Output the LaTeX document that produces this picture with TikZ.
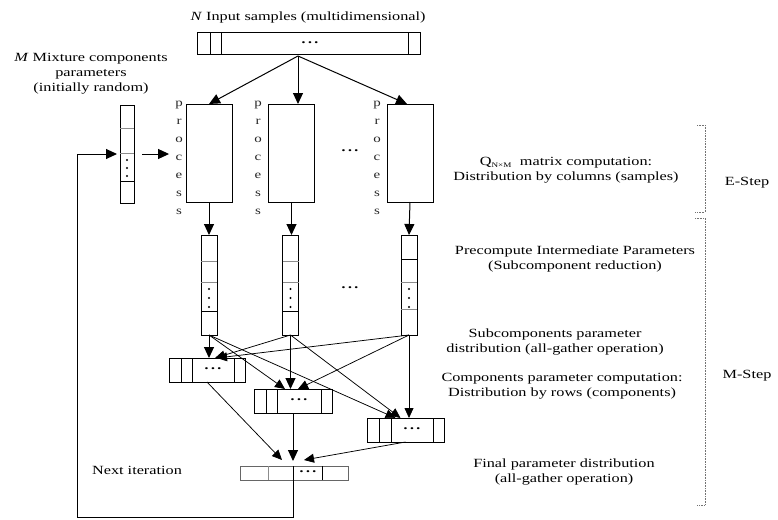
\documentclass[tikz,border=0pt]{standalone}
\usepackage{fontspec}
\setmainfont{Liberation Serif}[FakeStretch=1.3]
\usetikzlibrary{arrows.meta}

\tikzset{
  box/.style={draw, line width=1pt, inner sep=0pt, outer sep=0pt},
  arr/.style={-{Triangle[length=11pt,width=10pt]}, line width=1pt},
  fan/.style={-{Triangle[length=10pt,width=9pt]}, line width=0.75pt},
  lbl/.style={align=center, inner sep=0pt, font=\fontsize{12.5}{15}\selectfont},
  proclbl/.style={align=center, inner sep=0pt, text=black!85,
    font=\fontsize{11.5}{18}\selectfont},
  ell/.style={inner sep=0pt, font=\fontsize{8.5}{8.5}\selectfont},
  softsep/.style={draw=black!45, line width=0.9pt},
  hardsep/.style={draw=black, line width=0.9pt},
  brk/.style={draw=black!55, densely dotted, line width=0.6pt},
}

\newcommand{\ellip}{\textbullet\hspace{2.5pt}\textbullet\hspace{2.5pt}\textbullet}

\begin{document}
\begin{tikzpicture}[x=1pt,y=-1pt]
\useasboundingbox (0,0) rectangle (778,519);

% ---------- input samples ----------
\node[lbl] (intxt) at (308,17) {\textit{N} Input samples (multidimensional)};
\node[box, minimum width=223pt, minimum height=22pt] (in) at (308.5,44) {};
\draw[line width=0.9pt] (210,33) -- (210,55) (221,33) -- (221,55) (408,33) -- (408,55);
\node[ell] (indots) at (310,44) {\ellip};
\coordinate (split) at (298,56);

% ---------- mixture parameters ----------
\node[lbl] (mtxt) at (91,74) {\textit{M} Mixture components\\parameters\\(initially random)};
\node[box, minimum width=14pt, minimum height=98pt] (mc) at (127,154) {};
\draw[softsep] (120,128) -- (134,128) (120,153) -- (134,153);
\draw[hardsep] (120,181) -- (134,181);
\foreach \y in {160,168,176} \fill (127,\y) circle (1.2pt);

% ---------- E-step process boxes ----------
\node[box, minimum width=46pt, minimum height=98pt] (pA) at (209,153) {};
\node[box, minimum width=46pt, minimum height=98pt] (pB) at (291.5,153) {};
\node[box, minimum width=46pt, minimum height=98pt] (pC) at (410,153) {};
\node[proclbl] (lA) at (179,158) {p\\r\\o\\c\\e\\s\\s};
\node[proclbl] (lB) at (258,158) {p\\r\\o\\c\\e\\s\\s};
\node[proclbl] (lC) at (377,158) {p\\r\\o\\c\\e\\s\\s};
\node[ell] (pdots) at (350,152) {\ellip};

\draw[arr] (split) -- (pA.north);
\draw[arr] (split) -- (split |- pB.north);
\draw[arr] (split) -- ([xshift=-3pt]pC.north);

% ---------- intermediate parameter columns ----------
\node[box, minimum width=16pt, minimum height=100pt] (cA) at (209,285) {};
\node[box, minimum width=16pt, minimum height=100pt] (cB) at (290.5,285) {};
\node[box, minimum width=16pt, minimum height=100pt] (cC) at (409,285) {};
\draw[softsep] (201,261) -- (217,261) (201,282) -- (217,282);
\draw[hardsep] (201,311) -- (217,311);
\draw[softsep] (282.5,261) -- (298.5,261) (282.5,282) -- (298.5,282);
\draw[hardsep] (282.5,311) -- (298.5,311);
\draw[hardsep] (401,259) -- (417,259);
\draw[softsep] (401,282) -- (417,282) (401,309) -- (417,309);
\foreach \x in {209,290.5,409}
  \foreach \y in {289,298,307} \fill (\x,\y) circle (1.2pt);
\node[ell] (cdots) at (350,289) {\ellip};

\draw[arr] (pA.south) -- (pA.south |- cA.north);
\draw[arr] (pB.south) -- (pB.south |- cB.north);
\draw[arr] (pC.south) -- (cC.north);

% ---------- component rows ----------
\node[box, minimum width=76pt, minimum height=24pt] (b1) at (207,370) {};
\node[box, minimum width=78pt, minimum height=24pt] (b2) at (293,401) {};
\node[box, minimum width=77pt, minimum height=24pt] (b3) at (405.5,430) {};
\draw[line width=0.9pt] (181,358) -- (181,382) (192,358) -- (192,382) (234,358) -- (234,382);
\draw[line width=0.9pt] (266,389) -- (266,413) (277,389) -- (277,413) (321,389) -- (321,413);
\draw[line width=0.9pt] (379,418) -- (379,442) (391,418) -- (391,442) (433,418) -- (433,442);
\node[ell] (d1) at (213,370) {\ellip};
\node[ell] (d2) at (299,401) {\ellip};
\node[ell] (d3) at (412,430) {\ellip};

% all-gather of subcomponent parameters
\draw[arr] (cA.south) -- (cA.south |- b1.north);
\draw[fan] (cA.south) -- ([xshift=-8pt]b2.north);
\draw[fan] (cA.south) -- ([xshift=-10pt]b3.north);
\draw[fan] (cB.south) -- ([xshift=8pt]b1.north);
\draw[arr] (cB.south) -- (cB.south |- b2.north);
\draw[fan] (cB.south) -- ([xshift=-5pt]b3.north);
\draw[fan] (cC.south) -- ([xshift=10pt]b1.north);
\draw[fan] (cC.south) -- ([xshift=5pt]b2.north);
\draw[fan] (cC.south) -- (cC.south |- b3.north);

% ---------- final parameter bar ----------
\node[box, draw=black!60, minimum width=108pt, minimum height=14pt] (fb) at (294,473) {};
\draw[softsep] (268,466) -- (268,480);
\draw[hardsep] (293,466) -- (293,480) (322,466) -- (322,480);
\node[ell] (fdots) at (308,473) {\ellip};

\draw[fan] (b1.south) -- ([xshift=-12pt,yshift=6pt]fb.north);
\draw[arr] (b2.south) -- ([yshift=5pt]b2.south |- fb.north);
\draw[fan] (b3.south) -- ([xshift=10pt,yshift=6pt]fb.north);

% ---------- next iteration loop ----------
\node[lbl] (nxt) at (137,470) {Next iteration};
\coordinate (loopR) at (293,517);
\coordinate (loopL) at (77,517);
\draw[arr] (293,480) -- (loopR) -- (loopL) |- ([xshift=-3pt]mc.west);
\draw[arr] ([xshift=8pt]mc.east) -- ([xshift=-6pt]lA.west |- mc.east);

% ---------- stage descriptions ----------
\node[lbl] (tq) at (566,170) {Q\textsubscript{\fontsize{7}{7}\selectfont N\texttimes M}\ \ matrix computation:\\Distribution by columns (samples)};
\node[lbl] (tpre) at (575,259) {Precompute Intermediate Parameters\\(Subcomponent reduction)};
\node[lbl] (tsub) at (555,342) {Subcomponents parameter\\distribution (all-gather operation)};
\node[lbl] (tcomp) at (562,386) {Components parameter computation:\\Distribution by rows (components)};
\node[lbl] (tfin) at (564,472) {Final parameter distribution\\(all-gather operation)};

% ---------- step brackets ----------
\draw[brk] (697,125) -- (705,125) -- (705,212) -- (695,212);
\draw[brk] (695,218) -- (705,218) -- (705,505) -- (697,505);
\node[lbl] (estep) at (747,183) {E-Step};
\node[lbl] (mstep) at (747,376) {M-Step};
\end{tikzpicture}
\end{document}
